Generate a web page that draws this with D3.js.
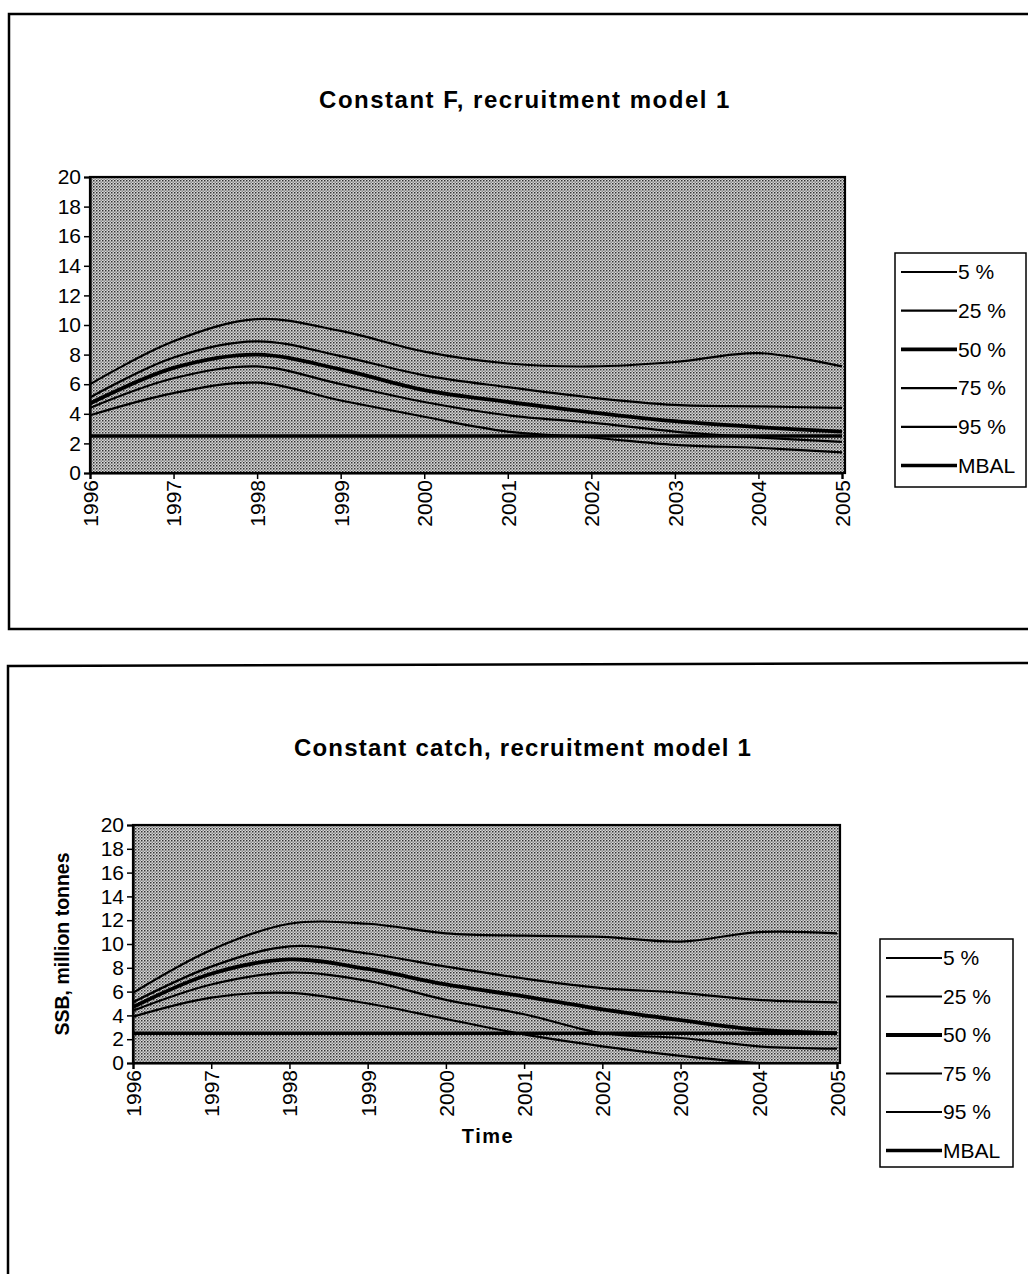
<!DOCTYPE html>
<html>
<head>
<meta charset="utf-8">
<script src="https://cdn.jsdelivr.net/npm/d3@7"></script>
<style>
  body { margin: 0; background: #fff; }
  text { font-family: "Liberation Sans", Arial, sans-serif; fill: #000; }
</style>
</head>
<body>
<div id="chart-area"></div>
<script>
var years = [1996, 1997, 1998, 1999, 2000, 2001, 2002, 2003, 2004, 2005];
var seriesNames = ["5 %", "25 %", "50 %", "75 %", "95 %", "MBAL"];
var yTicks = [0, 2, 4, 6, 8, 10, 12, 14, 16, 18, 20];

// Constant F, recruitment model 1
var fP5  = [3.9, 5.4, 6.1, 4.9, 3.8, 2.8, 2.4, 1.9, 1.7, 1.4];
var fP25 = [4.4, 6.4, 7.2, 6.0, 4.8, 3.9, 3.4, 2.8, 2.4, 2.1];
var fP50 = [4.7, 7.1, 8.0, 7.0, 5.6, 4.8, 4.1, 3.5, 3.1, 2.8];
var fP75 = [5.1, 7.8, 8.9, 7.9, 6.6, 5.8, 5.1, 4.6, 4.5, 4.4];
var fP95 = [6.0, 8.9, 10.4, 9.6, 8.2, 7.4, 7.2, 7.5, 8.1, 7.2];
var fMbal = [2.5, 2.5, 2.5, 2.5, 2.5, 2.5, 2.5, 2.5, 2.5, 2.5];

// Constant catch, recruitment model 1
var cP5  = [3.9, 5.5, 5.9, 5.0, 3.7, 2.4, 1.4, 0.6, 0.0, -0.2];
var cP25 = [4.4, 6.6, 7.6, 6.9, 5.3, 4.1, 2.5, 2.1, 1.4, 1.2];
var cP50 = [4.7, 7.5, 8.7, 7.9, 6.6, 5.6, 4.5, 3.6, 2.8, 2.5];
var cP75 = [5.1, 8.1, 9.8, 9.2, 8.1, 7.1, 6.3, 5.9, 5.3, 5.1];
var cP95 = [5.9, 9.5, 11.7, 11.7, 10.9, 10.7, 10.6, 10.2, 11.0, 10.9];
var cMbal = [2.5, 2.5, 2.5, 2.5, 2.5, 2.5, 2.5, 2.5, 2.5, 2.5];

var widths = [2.2, 2.2, 3.8, 2.2, 2.2, 3.4];

var svg = d3.select("#chart-area").append("svg")
    .attr("width", 1028)
    .attr("height", 1274);

// stipple pattern for the plot area
var defs = svg.append("defs");
var pat = defs.append("pattern")
    .attr("id", "dots")
    .attr("width", 3).attr("height", 3)
    .attr("patternUnits", "userSpaceOnUse");
pat.append("rect").attr("width", 3).attr("height", 3).attr("fill", "#d8d8d8");
pat.append("rect").attr("width", 1.5).attr("height", 1.5).attr("fill", "#333");
pat.append("rect").attr("x", 1.5).attr("y", 1.5).attr("width", 1.5).attr("height", 1.5).attr("fill", "#8a8a8a");

// outer frames
svg.append("path").attr("d", "M1028,14 L9,14 L9,629 L1028,629")
    .attr("fill", "none").attr("stroke", "#000").attr("stroke-width", 2.5);
svg.append("path").attr("d", "M1028,663 L8,666 L8,1274")
    .attr("fill", "none").attr("stroke", "#000").attr("stroke-width", 2.5);

function drawPanel(opts) {
    var x = d3.scaleLinear().domain([1996, 2005]).range([opts.left, opts.right]);
    var y = d3.scaleLinear().domain([0, 20]).range([opts.bottom, opts.top]);
    var g = svg.append("g");

    g.append("text")
        .attr("x", opts.titleX).attr("y", opts.titleY)
        .attr("text-anchor", "middle")
        .style("font-size", "24px").style("font-weight", "bold")
        .style("letter-spacing", opts.titleSpacing + "px")
        .text(opts.title);

    g.append("rect")
        .attr("x", opts.left).attr("y", opts.top)
        .attr("width", opts.right - opts.left + 3)
        .attr("height", opts.bottom - opts.top)
        .attr("fill", "url(#dots)");

    var clipId = "clip" + opts.id;
    defs.append("clipPath").attr("id", clipId).append("rect")
        .attr("x", opts.left).attr("y", opts.top)
        .attr("width", opts.right - opts.left + 3)
        .attr("height", opts.bottom - opts.top);

    var line = d3.line()
        .x((d, i) => x(years[i]))
        .y((d) => y(d))
        .curve(d3.curveCatmullRom.alpha(0.5));

    g.append("g").attr("clip-path", "url(#" + clipId + ")")
        .selectAll("path").data(opts.series).enter().append("path")
        .attr("d", (d) => line(d))
        .attr("fill", "none")
        .attr("stroke", "#000")
        .attr("stroke-width", (d, i) => widths[i]);

    g.append("rect")
        .attr("x", opts.left).attr("y", opts.top)
        .attr("width", opts.right - opts.left + 3)
        .attr("height", opts.bottom - opts.top)
        .attr("fill", "none").attr("stroke", "#000").attr("stroke-width", 2.2);

    var yAxis = g.append("g")
        .attr("transform", "translate(" + opts.left + ",0)")
        .call(d3.axisLeft(y).tickValues(yTicks).tickSize(6).tickPadding(3));
    yAxis.select(".domain").attr("stroke-width", 2.2);
    yAxis.selectAll("line").attr("stroke-width", 1.5);
    yAxis.selectAll("text").style("font-size", "21px");

    var xAxis = g.append("g")
        .attr("transform", "translate(0," + opts.bottom + ")")
        .call(d3.axisBottom(x).tickValues(years).tickFormat(d3.format("d")).tickSize(6).tickPadding(4));
    xAxis.select(".domain").attr("stroke-width", 2.2);
    xAxis.selectAll("line").attr("stroke-width", 1.5);
    xAxis.selectAll("text")
        .style("font-size", "21px")
        .attr("transform", "rotate(-90)")
        .attr("text-anchor", "end")
        .attr("x", -7).attr("y", 0).attr("dy", "0.35em");

    if (opts.yLabel) {
        g.append("text")
            .attr("transform", "translate(" + opts.yLabelX + "," + ((opts.top + opts.bottom) / 2) + ") rotate(-90)")
            .attr("text-anchor", "middle")
            .style("font-size", "19.5px").style("font-weight", "bold")
            .text(opts.yLabel);
    }
    if (opts.xLabel) {
        g.append("text")
            .attr("x", opts.xLabelX).attr("y", opts.xLabelY)
            .attr("text-anchor", "middle")
            .style("font-size", "20px").style("font-weight", "bold")
            .style("letter-spacing", "1.5px")
            .text(opts.xLabel);
    }

    // legend
    var lg = g.append("g");
    lg.append("rect")
        .attr("x", opts.legX).attr("y", opts.legY)
        .attr("width", opts.legW).attr("height", opts.legH)
        .attr("fill", "#fff").attr("stroke", "#000").attr("stroke-width", 1.5);
    var items = lg.selectAll("g.item").data(seriesNames).enter().append("g")
        .attr("class", "item")
        .attr("transform", (d, i) => "translate(" + (opts.legX + 6) + "," + (opts.legY + 19 + i * opts.legStep) + ")");
    items.append("line")
        .attr("x1", 0).attr("x2", 56)
        .attr("stroke", "#000")
        .attr("stroke-width", (d, i) => widths[i]);
    items.append("text")
        .attr("x", 57).attr("dy", "0.35em")
        .style("font-size", "21px")
        .text((d) => d);
}

drawPanel({
    id: 1, title: "Constant F, recruitment model 1", titleX: 525, titleY: 108, titleSpacing: 1.5,
    left: 90, right: 842, top: 177, bottom: 473,
    series: [fP5, fP25, fP50, fP75, fP95, fMbal],
    legX: 895, legY: 253, legW: 131, legH: 234, legStep: 38.7
});

drawPanel({
    id: 2, title: "Constant catch, recruitment model 1", titleX: 523, titleY: 756, titleSpacing: 1.2,
    left: 133, right: 837, top: 825, bottom: 1063,
    series: [cP5, cP25, cP50, cP75, cP95, cMbal],
    yLabel: "SSB, million tonnes", yLabelX: 69,
    xLabel: "Time", xLabelX: 488, xLabelY: 1143,
    legX: 880, legY: 939, legW: 133, legH: 228, legStep: 38.5
});
</script>
</body>
</html>
